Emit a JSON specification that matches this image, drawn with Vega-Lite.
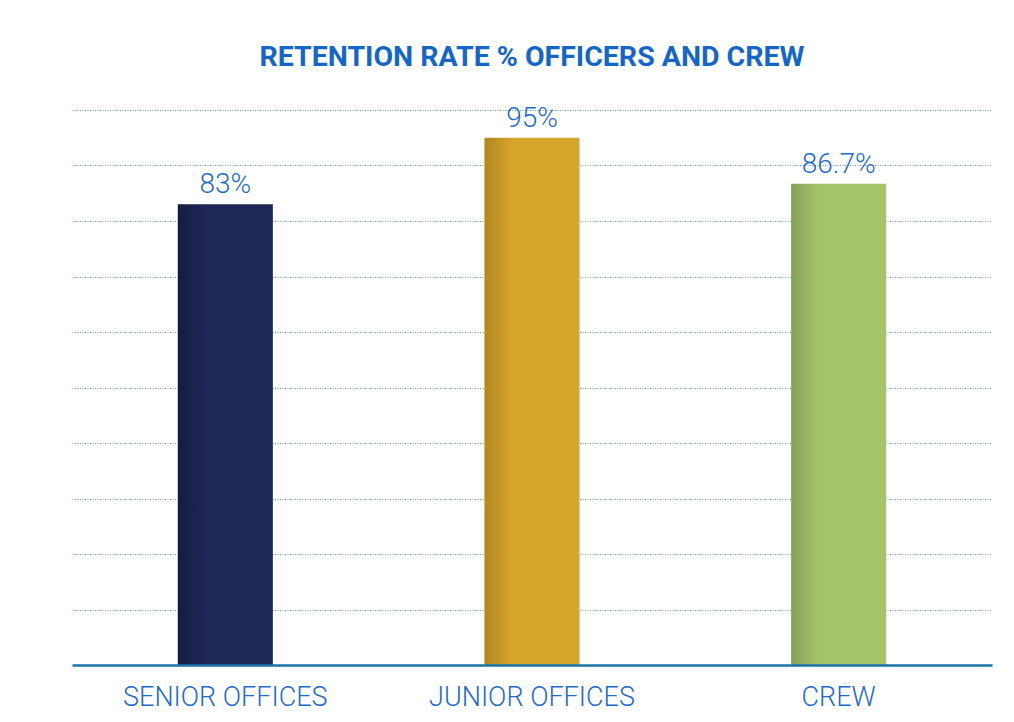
{
  "$schema": "https://vega.github.io/schema/vega-lite/v6.json",
  "autosize": "none",
  "width": 920,
  "height": 555,
  "padding": {"left": 72, "top": 110, "right": 22, "bottom": 57},
  "background": "#ffffff",
  "title": {
    "text": "RETENTION RATE % OFFICERS AND CREW",
    "anchor": "middle",
    "frame": "group",
    "font": "Roboto",
    "fontSize": 28.5,
    "fontWeight": "bold",
    "color": "#1466c8",
    "offset": 33
  },
  "data": {
    "values": [
      {"category": "SENIOR OFFICES", "value": 83, "label": "83%"},
      {"category": "JUNIOR OFFICES", "value": 95, "label": "95%"},
      {"category": "CREW", "value": 86.7, "label": "86.7%"}
    ]
  },
  "encoding": {
    "x": {
      "field": "category",
      "type": "nominal",
      "sort": null,
      "scale": {"paddingInner": 0.69, "paddingOuter": 0.345},
      "axis": {
        "title": null,
        "labelAngle": 0,
        "labelFont": "Roboto",
        "labelFontSize": 27,
        "labelFontWeight": 300,
        "labelLimit": 0,
        "labelColor": "#1d6bcc",
        "labelPadding": 19,
        "ticks": false,
        "domainColor": "#1a73a8",
        "domainWidth": 2.5,
        "zindex": 1
      }
    },
    "y": {
      "field": "value",
      "type": "quantitative",
      "scale": {"domain": [0, 100], "nice": false},
      "axis": {
        "title": null,
        "labels": false,
        "ticks": false,
        "domain": false,
        "values": [10, 20, 30, 40, 50, 60, 70, 80, 90, 100],
        "grid": true,
        "gridColor": "#3f82ad",
        "gridDash": [1, 1.5],
        "gridWidth": 1,
        "gridOpacity": 0.8
      }
    }
  },
  "layer": [
    {
      "transform": [{"filter": "datum.category === 'SENIOR OFFICES'"}],
      "mark": {"type": "bar", "color": {"gradient": "linear", "x1": 0, "x2": 1, "y1": 0, "y2": 0, "stops": [{"offset": 0, "color": "#161c40"}, {"offset": 0.3, "color": "#1e2756"}, {"offset": 1, "color": "#1e2756"}]}}
    },
    {
      "transform": [{"filter": "datum.category === 'JUNIOR OFFICES'"}],
      "mark": {"type": "bar", "color": {"gradient": "linear", "x1": 0, "x2": 1, "y1": 0, "y2": 0, "stops": [{"offset": 0, "color": "#b0861f"}, {"offset": 0.3, "color": "#d6a62a"}, {"offset": 1, "color": "#d6a62a"}]}}
    },
    {
      "transform": [{"filter": "datum.category === 'CREW'"}],
      "mark": {"type": "bar", "color": {"gradient": "linear", "x1": 0, "x2": 1, "y1": 0, "y2": 0, "stops": [{"offset": 0, "color": "#86a058"}, {"offset": 0.3, "color": "#a6c468"}, {"offset": 1, "color": "#a6c468"}]}}
    },
    {
      "mark": {"type": "text", "baseline": "bottom", "dy": -5, "font": "Roboto", "fontSize": 28, "fontWeight": 300, "color": "#1d6bcc"},
      "encoding": {"text": {"field": "label"}}
    }
  ],
  "config": {"view": {"stroke": null}}
}
